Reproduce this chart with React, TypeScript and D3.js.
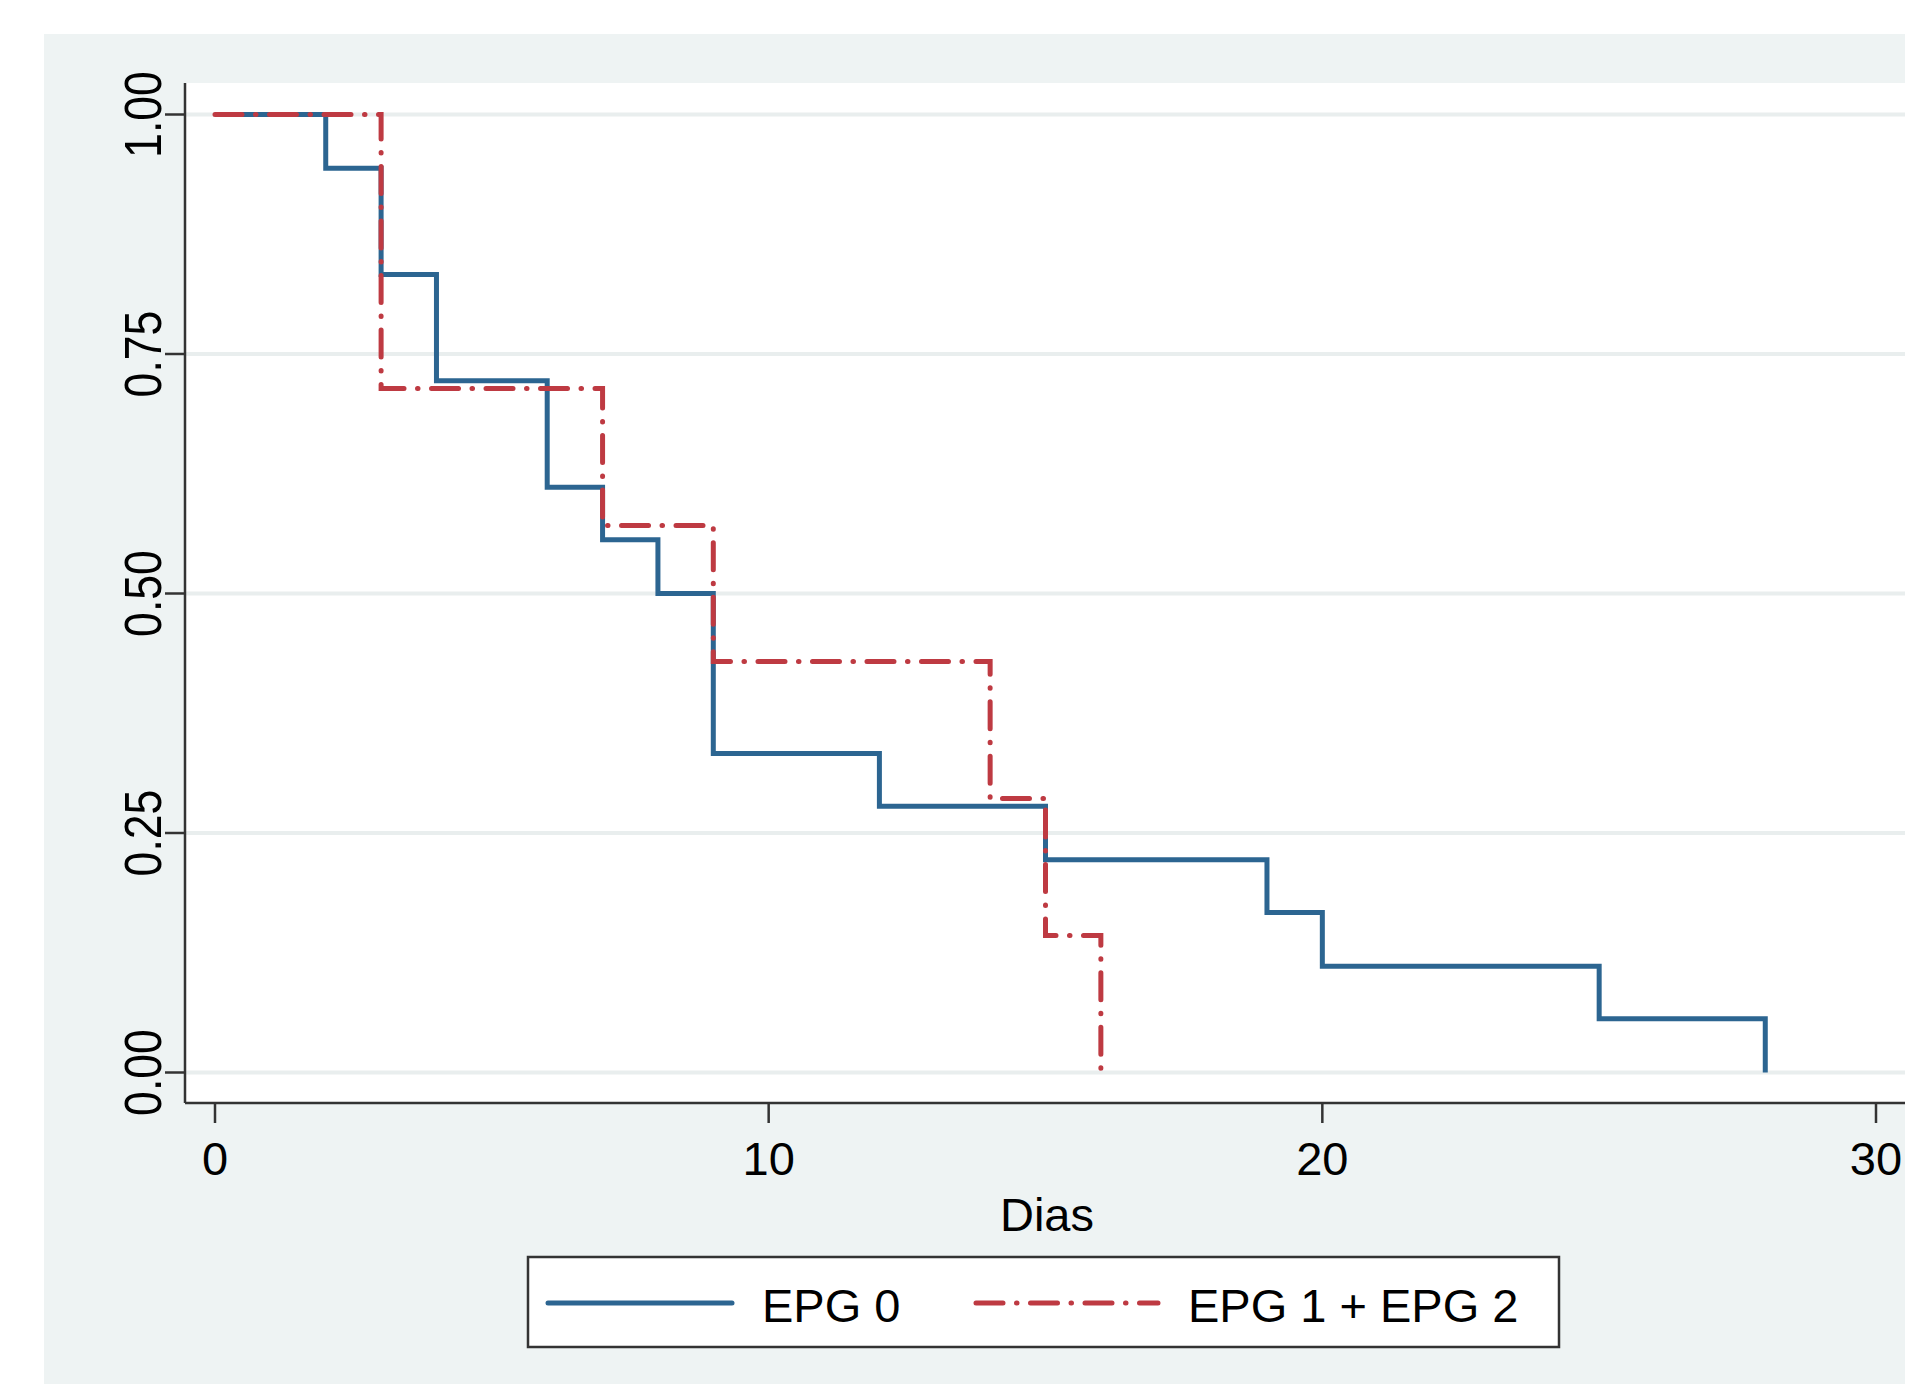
import React, { useEffect } from 'react';
import * as d3 from 'd3';

// Kaplan-Meier estimates
const epg0Days = [0, 2, 3, 4, 6, 7, 8, 9, 12, 15, 19, 20, 25, 28];
const epg0Surv = [1, 0.944, 0.833, 0.722, 0.611, 0.556, 0.5, 0.333, 0.278, 0.222, 0.167, 0.111, 0.056, 0];
const epg12Days = [0, 3, 7, 9, 14, 15, 16];
const epg12Surv = [1, 0.714, 0.571, 0.429, 0.286, 0.143, 0];

const xTicks = [0, 10, 20, 30];
const yTicks = [0, 0.25, 0.5, 0.75, 1];
const seriesNames = ['EPG 0', 'EPG 1 + EPG 2'];

const W = 1905;
const H = 1384;
const BLUE = '#2c6591';
const RED = '#be3a42';
const PANEL = '#eef3f3';
const GRID = '#e9eeee';
const AXIS = '#333';
const FONT = '"Liberation Sans", Arial, Helvetica, sans-serif';
const DASH = '27 13.5 0.5 13.5';

const App = () => {
  useEffect(() => {
    document.body.style.margin = '0';
  }, []);

  const plotLeft = 185;
  const plotTop = 83;
  const plotBottom = 1103;

  const x = d3.scaleLinear().domain([0, 30]).range([215, 1876]);
  const y = d3.scaleLinear().domain([0, 1]).range([1072.5, 114.5]);

  const step = d3.line<[number, number]>()
    .x(d => x(d[0]))
    .y(d => y(d[1]))
    .curve(d3.curveStepAfter);

  const blueLine = step(epg0Days.map((t, i) => [t, epg0Surv[i]]));
  const redLine = step(epg12Days.map((t, i) => [t, epg12Surv[i]]));

  return (
    <svg width={W} height={H} style={{ display: 'block' }} fontFamily={FONT}>
      <rect x={0} y={0} width={W} height={H} fill="#fff" />
      <rect x={44} y={34} width={W - 44} height={H - 34} fill={PANEL} />
      <rect x={plotLeft} y={plotTop} width={W - plotLeft} height={plotBottom - plotTop} fill="#fff" />

      {yTicks.map(t => (
        <line key={'g' + t} x1={plotLeft} x2={W} y1={y(t)} y2={y(t)} stroke={GRID} strokeWidth={4} />
      ))}

      <path d={blueLine ?? ''} fill="none" stroke={BLUE} strokeWidth={5} strokeLinejoin="miter" />
      <path d={redLine ?? ''} fill="none" stroke={RED} strokeWidth={5} strokeDasharray={DASH} strokeLinecap="round" />

      {/* y axis */}
      <line x1={plotLeft} x2={plotLeft} y1={plotTop} y2={plotBottom} stroke={AXIS} strokeWidth={2.5} />
      {yTicks.map(t => (
        <g key={'y' + t}>
          <line x1={165} x2={plotLeft} y1={y(t)} y2={y(t)} stroke={AXIS} strokeWidth={2.5} />
          <text
            transform={`translate(161, ${y(t)}) rotate(-90) scale(0.95, 1.1)`}
            textAnchor="middle"
            fontSize={47}
            fill="#000"
          >
            {d3.format('.2f')(t)}
          </text>
        </g>
      ))}

      {/* x axis */}
      <line x1={plotLeft} x2={W} y1={plotBottom} y2={plotBottom} stroke={AXIS} strokeWidth={2.5} />
      {xTicks.map(t => (
        <g key={'x' + t}>
          <line x1={x(t)} x2={x(t)} y1={plotBottom} y2={plotBottom + 20} stroke={AXIS} strokeWidth={2.5} />
          <text x={x(t)} y={1175} textAnchor="middle" fontSize={47} fill="#000">{t}</text>
        </g>
      ))}
      <text x={1047} y={1231} textAnchor="middle" fontSize={47} fill="#000">Dias</text>

      {/* legend */}
      <rect x={528} y={1257} width={1031} height={90} fill="#fff" stroke={AXIS} strokeWidth={2.5} />
      <line x1={548} x2={732} y1={1303} y2={1303} stroke={BLUE} strokeWidth={5} strokeLinecap="round" />
      <text x={762} y={1322} fontSize={47} fill="#000">{seriesNames[0]}</text>
      <line x1={976} x2={1158} y1={1303} y2={1303} stroke={RED} strokeWidth={5} strokeDasharray={DASH} strokeLinecap="round" />
      <text x={1188} y={1322} fontSize={47} fill="#000">{seriesNames[1]}</text>
    </svg>
  );
};

export default App;
